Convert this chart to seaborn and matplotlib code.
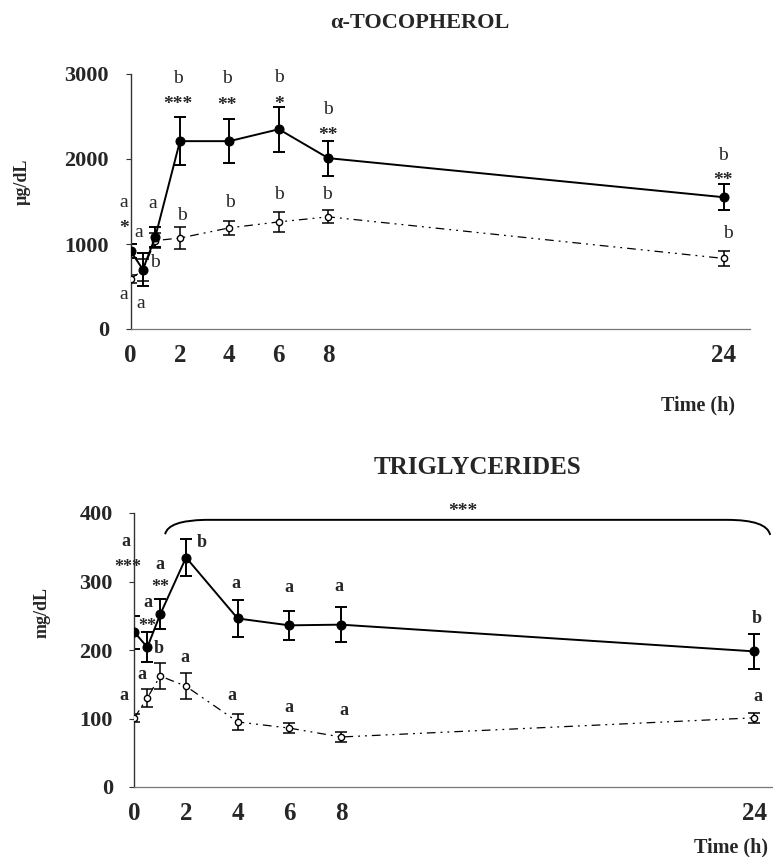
import matplotlib
matplotlib.use('Agg')
import matplotlib.pyplot as plt
from matplotlib.path import Path
from matplotlib.patches import PathPatch
import seaborn as sns
import pandas as pd

# sampling times (h)
time_h = [0, 0.5, 1, 2, 4, 6, 8, 24]

# alpha-tocopherol (ug/dL): filled = solid line, ctrl = open circles
toco_fed = [920, 700, 1080, 2210, 2210, 2350, 2010, 1550]
toco_fed_err = [80, 190, 120, 280, 260, 265, 205, 150]
toco_ctrl = [590, 690, 1040, 1070, 1190, 1260, 1320, 830]
toco_ctrl_err = [50, 130, 90, 130, 80, 115, 75, 90]
toco_fed_letters = ['a', 'a', 'a', 'b', 'b', 'b', 'b', 'b']
toco_fed_stars = ['*', '', '', '***', '**', '*', '**', '**']
toco_ctrl_letters = ['a', 'a', 'b', 'b', 'b', 'b', 'b', 'b']

# triglycerides (mg/dL)
tg_fed = [226, 204, 252, 335, 246, 236, 237, 198]
tg_fed_err = [24, 22, 22, 27, 27, 21, 26, 26]
tg_ctrl = [101, 130, 162, 147, 95, 86, 73, 101]
tg_ctrl_err = [6, 13, 19, 19, 12, 7, 8, 7]
tg_fed_letters = ['a', 'a', 'a', 'b', 'a', 'a', 'a', 'b']
tg_fed_stars = ['***', '**', '**', '', '', '', '', '']
tg_ctrl_letters = ['a', 'a', 'b', 'a', 'a', 'a', 'a', 'a']
tg_overall_stars = '***'

# label placement, pixel offsets from each point
toco_fed_letter_off = [(-7, 48), (-4, 37), (-3, 34), (-2, 63), (-2, 63), (0, 52), (0, 49), (-1, 42)]
toco_fed_star_off = [(-6, 28), None, None, (-2, 43), (-2, 42), (0, 31), (0, 29), (-1, 23)]
toco_ctrl_letter_off = [(-7, -16), (-2, -33), (0, -22), (2, 23), (1, 25), (0, 27), (-1, 22), (4, 25)]
tg_fed_letter_off = [(-9, 91), (1, 45), (0, 50), (16, 15), (-2, 35), (0, 38), (-2, 38), (3, 33)]
tg_fed_star_off = [(-7, 71), (0, 27), (0, 33), None, None, None, None, None]
tg_ctrl_letter_off = [(-11, 22), (-5, 23), (-2, 28), (-1, 29), (-6, 26), (0, 21), (3, 26), (4, 21)]

STAR_DROP = 6

sns.set_theme(style='white')
plt.rcParams['font.family'] = ['Liberation Serif', 'DejaVu Serif']

fig = plt.figure(figsize=(7.73, 8.57), dpi=100)
W, H = 773, 857
ax1 = fig.add_axes([130.5 / W, (H - 329) / H, 619.4 / W, 255 / H])
ax2 = fig.add_axes([134.4 / W, (H - 787) / H, 638.6 / W, 274 / H])


def draw_panel(ax, fed, fed_err, ctrl, ctrl_err):
    df = pd.DataFrame({'time': time_h, 'fed': fed, 'ctrl': ctrl})
    ax.errorbar(time_h, ctrl, yerr=ctrl_err, fmt='none', ecolor='black',
                elinewidth=1.1, capsize=4, capthick=1.1, zorder=2)
    sns.lineplot(data=df, x='time', y='ctrl', ax=ax, color='black', lw=0.9,
                 linestyle=(0, (7, 4, 1.5, 4, 1.5, 4)), marker='o', markersize=4.5,
                 markerfacecolor='white', markeredgecolor='black',
                 markeredgewidth=1, zorder=3)
    ax.errorbar(time_h, fed, yerr=fed_err, fmt='none', ecolor='black',
                elinewidth=1.4, capsize=4.5, capthick=1.4, zorder=2)
    sns.lineplot(data=df, x='time', y='fed', ax=ax, color='black', lw=1.4,
                 marker='o', markersize=6.5, markerfacecolor='black',
                 markeredgecolor='black', zorder=4)
    ax.set_xlabel('')
    ax.set_ylabel('')
    ax.set_xticks([0, 2, 4, 6, 8, 24])
    ax.tick_params(axis='x', direction='in', length=7, width=1.2, pad=11,
                   labelsize=18, color='black')
    ax.tick_params(axis='y', direction='out', length=3.5, width=0.8, pad=12,
                   labelsize=16, color='#333333', left=True)
    for lbl in ax.get_xticklabels() + ax.get_yticklabels():
        lbl.set_fontweight('bold')
    ax.spines[['top', 'right']].set_visible(False)
    ax.spines['left'].set_color('#333333')
    ax.spines['left'].set_linewidth(1.0)
    ax.spines['bottom'].set_color('#777777')
    ax.spines['bottom'].set_linewidth(0.9)


def put_labels(ax, values, texts, offsets, bold, size, drop=0):
    for t, v, s, off in zip(time_h, values, texts, offsets):
        if not s or off is None:
            continue
        ax.annotate(s, xy=(t, v), xytext=(off[0], off[1] - drop),
                    textcoords='offset pixels', ha='center', va='center',
                    fontsize=size, fontweight='bold' if bold else 'normal',
                    annotation_clip=False, zorder=5)


draw_panel(ax1, toco_fed, toco_fed_err, toco_ctrl, toco_ctrl_err)
ax1.set_xlim(0, 25.05)
ax1.set_ylim(0, 3000)
ax1.set_yticks([0, 1000, 2000, 3000])
put_labels(ax1, toco_fed, toco_fed_letters, toco_fed_letter_off, False, 14)
put_labels(ax1, toco_fed, toco_fed_stars, toco_fed_star_off, True, 14, STAR_DROP)
put_labels(ax1, toco_ctrl, toco_ctrl_letters, toco_ctrl_letter_off, False, 14)

draw_panel(ax2, tg_fed, tg_fed_err, tg_ctrl, tg_ctrl_err)
ax2.set_xlim(0, 24.73)
ax2.set_ylim(0, 400)
ax2.set_yticks([0, 100, 200, 300, 400])
put_labels(ax2, tg_fed, tg_fed_letters, tg_fed_letter_off, True, 13)
put_labels(ax2, tg_fed, tg_fed_stars, tg_fed_star_off, True, 13, STAR_DROP)
put_labels(ax2, tg_ctrl, tg_ctrl_letters, tg_ctrl_letter_off, True, 13)

# bracket over 1-24 h
bracket = [(1.19, 369), (1.3, 389), (2.74, 390), (22.95, 390), (24.5, 390), (24.62, 368)]
codes = [Path.MOVETO, Path.CURVE3, Path.CURVE3, Path.LINETO, Path.CURVE3, Path.CURVE3]
ax2.add_patch(PathPatch(Path(bracket, codes), fill=False, lw=1.4,
                        edgecolor='black', clip_on=False))
ax2.annotate(tg_overall_stars, xy=(12.7, 390), xytext=(0, 14 - STAR_DROP),
             textcoords='offset pixels', ha='center', va='center',
             fontsize=14, fontweight='bold', annotation_clip=False)

fig.text(420 / W, 1 - 23 / H, 'α-TOCOPHEROL', ha='center', va='center',
         fontsize=16, fontweight='bold')
fig.text(477 / W, 1 - 468 / H, 'TRIGLYCERIDES', ha='center', va='center',
         fontsize=18, fontweight='bold')
fig.text(22 / W, 1 - 182 / H, 'µg/dL', rotation=90, ha='center', va='center',
         fontsize=13, fontweight='bold')
fig.text(42 / W, 1 - 612 / H, 'mg/dL', rotation=90, ha='center', va='center',
         fontsize=13, fontweight='bold')
fig.text(735 / W, 1 - 405 / H, 'Time (h)', ha='right', va='center',
         fontsize=14.5, fontweight='bold')
fig.text(768 / W, 1 - 847 / H, 'Time (h)', ha='right', va='center',
         fontsize=14.5, fontweight='bold')

fig.savefig('out.png', dpi=100)
